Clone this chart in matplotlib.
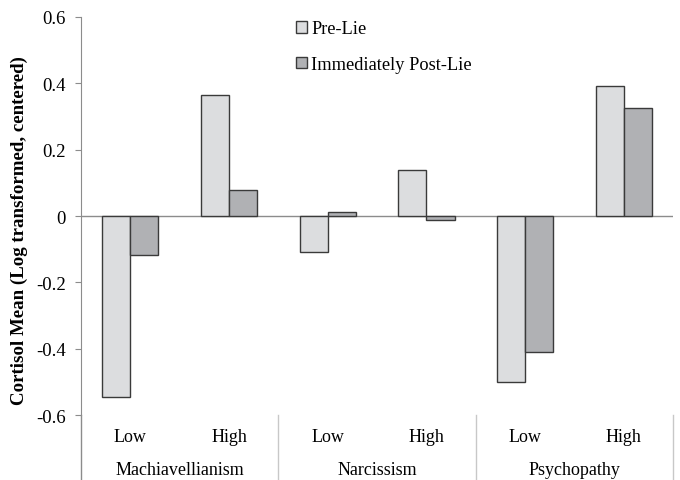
import matplotlib
matplotlib.use("Agg")
import matplotlib.pyplot as plt
import numpy as np

# data
traits = ["Machiavellianism", "Narcissism", "Psychopathy"]
levels = ["Low", "High"]
pre_lie = [-0.547, 0.365, -0.108, 0.138, -0.501, 0.393]
post_lie = [-0.118, 0.079, 0.011, -0.011, -0.411, 0.325]
yticks = [-0.6, -0.4, -0.2, 0, 0.2, 0.4, 0.6]
ytick_labels = ["-0.6", "-0.4", "-0.2", "0", "0.2", "0.4", "0.6"]

plt.rcParams['font.family'] = ['Liberation Serif', 'DejaVu Serif']
plt.rcParams['font.size'] = 13

fig = plt.figure(figsize=(6.8, 4.81), dpi=100)
ax = fig.add_axes([0.119, 0.135, 0.871, 0.8276])

axis_gray = "#8c8c8c"
edge = "#3a3a3a"
x = np.arange(len(pre_lie)) + 0.5
w = 0.285

ax.bar(x - w / 2, pre_lie, w, color="#dcdddf", edgecolor=edge, linewidth=1.0,
       label="Pre-Lie", zorder=2)
ax.bar(x + w / 2, post_lie, w, color="#b0b1b4", edgecolor=edge, linewidth=1.0,
       label="Immediately Post-Lie", zorder=2)

ax.axhline(0, color=axis_gray, linewidth=1.0, zorder=1)
ax.set_xlim(0, 6)
ax.set_ylim(-0.6, 0.6)
ax.set_yticks(yticks)
ax.set_yticklabels(ytick_labels, fontsize=13.5)
ax.tick_params(axis='y', direction='out', length=4.5, color=axis_gray, pad=6.5)
ax.set_xticks([])

for s in ["top", "right", "bottom"]:
    ax.spines[s].set_visible(False)
ax.spines["left"].set_color(axis_gray)

# axis line and group separators running below the plot
for xs in [0, 2, 4, 6]:
    ax.plot([xs, xs], [-0.6, -0.8], color="#c8c8c8" if xs else axis_gray,
            linewidth=1.0, clip_on=False)

for i, xc in enumerate(x):
    ax.text(xc, -0.666, levels[i % 2], ha="center", va="center", fontsize=13)
for j, t in enumerate(traits):
    ax.text(2 * j + 1, -0.763, t, ha="center", va="center", fontsize=13)

fig.text(0.029, 0.52, "Cortisol Mean (Log transformed, centered)", rotation=90,
         ha="center", va="center", fontsize=13.6, fontweight="bold")

fig.legend(*ax.get_legend_handles_labels(), loc="upper left",
           bbox_to_anchor=(0.436, 0.956), frameon=False, borderpad=0,
           borderaxespad=0, fontsize=13.2, handlelength=0.6, handleheight=0.6,
           handletextpad=0.2, labelspacing=1.02)

fig.savefig("out.png", dpi=100)
